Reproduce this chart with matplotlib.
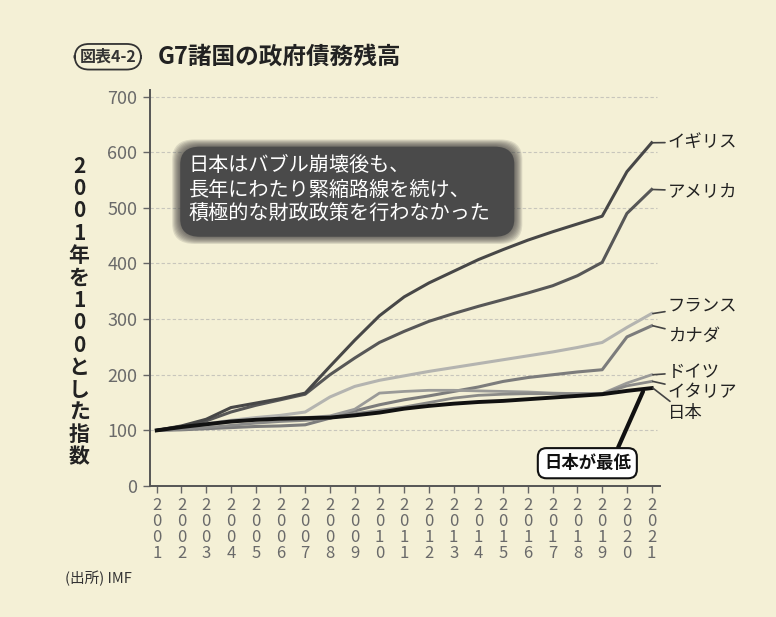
import matplotlib.pyplot as plt
from matplotlib.patches import FancyBboxPatch

plt.rcParams['font.family'] = ['Noto Sans CJK JP', 'DejaVu Sans']

# Index values, 2001 = 100
years = list(range(2001, 2022))
uk = [100, 108, 120, 141, 149, 157, 167, 215, 262, 306, 340, 365, 386, 407,
      425, 442, 457, 471, 485, 565, 617]
us = [100, 107, 117, 133, 145, 155, 165, 200, 230, 258, 278, 296, 310, 323,
      335, 347, 360, 378, 402, 490, 533]
france = [100, 105, 112, 118, 123, 127, 133, 160, 179, 190, 198, 206, 213,
          220, 227, 234, 241, 249, 258, 285, 310]
canada = [100, 101, 103, 105, 107, 108, 110, 122, 135, 146, 155, 162, 170,
          178, 188, 195, 200, 205, 209, 268, 288]
germany = [100, 105, 110, 115, 119, 122, 123, 126, 138, 167, 170, 172, 172,
           171, 170, 169, 167, 166, 166, 185, 200]
italy = [100, 102, 105, 109, 113, 116, 118, 122, 130, 136, 142, 150, 158,
         163, 165, 166, 166, 166, 166, 180, 188]
japan = [100, 106, 111, 116, 119, 121, 122, 123, 127, 132, 139, 144, 148,
         151, 153, 156, 159, 162, 165, 171, 176]

names = ['イギリス', 'アメリカ', 'フランス', 'カナダ', 'ドイツ', 'イタリア', '日本']
series = [uk, us, france, canada, germany, italy, japan]
colors = ['#474747', '#575757', '#b4b4b0', '#7c7c7c', '#9a9a98', '#8a8a88', '#111111']
widths = [2.2, 2.2, 2.2, 2.2, 2.0, 2.0, 2.8]
label_y = [618, 530, 324, 270, 205, 168, 131]

bg = '#f4f0d6'
fig = plt.figure(figsize=(7.76, 6.17), dpi=100, facecolor=bg)
ax = fig.add_axes([0.193, 0.2123, 0.657, 0.642], facecolor=bg)

for v in range(100, 800, 100):
    ax.plot([2000.72, 2021.2], [v, v], color='#c8c6bc', lw=0.8,
            ls=(0, (3, 2)), zorder=1)

order = [2, 3, 4, 5, 1, 0, 6]
for i in order:
    ax.plot(years, series[i], color=colors[i], lw=widths[i],
            solid_joinstyle='round', zorder=3)

for i, name in enumerate(names):
    ax.annotate(name, xy=(2021.05, series[i][-1]), xytext=(2021.65, label_y[i]),
                fontsize=12.5, color='#222222', va='center', ha='left',
                annotation_clip=False,
                arrowprops=dict(arrowstyle='-', color='#444444', lw=1.2,
                                shrinkA=0, shrinkB=0))

ax.set_xlim(2000.72, 2021.32)
ax.set_ylim(0, 712)
ax.set_yticks(range(0, 800, 100))
ax.set_yticklabels([str(v) for v in range(0, 800, 100)], fontsize=13,
                   color='#6a6a6a')
ax.set_xticks(years)
ax.set_xticklabels(['\n'.join(str(y)) for y in years], fontsize=12,
                   color='#6a6a6a', linespacing=0.92)
ax.tick_params(axis='y', length=5, width=1, color='#666666', pad=4)
ax.tick_params(axis='x', length=5, width=1, color='#666666', pad=3)
for s in ['top', 'right']:
    ax.spines[s].set_visible(False)
for s in ['left', 'bottom']:
    ax.spines[s].set_color('#555555')
    ax.spines[s].set_linewidth(1.4)

# dark callout box with a soft, blurred edge
steps = 8
for k in range(steps):
    grow = (steps - k) * 0.9
    ax.add_patch(FancyBboxPatch((2001.95 - grow * 0.045, 448 - grow * 1.8),
                                13.5 + grow * 0.09, 162 + grow * 3.6,
                                boxstyle='round,pad=0,rounding_size=0.9',
                                facecolor='#3c3c3c', edgecolor='none',
                                alpha=0.13, zorder=4, mutation_aspect=40))
ax.add_patch(FancyBboxPatch((2001.95, 448), 13.5, 162,
                            boxstyle='round,pad=0,rounding_size=0.8',
                            facecolor='#4a4a4a', edgecolor='none',
                            zorder=5, mutation_aspect=40))
ax.text(2002.3, 532, '日本はバブル崩壊後も、\n長年にわたり緊縮路線を続け、\n積極的な財政政策を行わなかった',
        fontsize=14.5, color='white', va='center', ha='left',
        linespacing=1.22, zorder=6)

# "Japan is lowest" callout
ax.annotate('日本が最低', xy=(2020.65, 170), xytext=(2018.4, 41),
            fontsize=12.5, fontweight='bold', color='#111111',
            ha='center', va='center', zorder=7,
            bbox=dict(boxstyle='round,pad=0.35,rounding_size=0.5',
                      facecolor='white', edgecolor='#111111', lw=1.5),
            arrowprops=dict(arrowstyle='-', color='#111111', lw=3,
                            shrinkA=0, shrinkB=0,
                            relpos=(0.82, 1.0)))

# vertical y label, one character per line
ylab = '2001年を100とした指数'
fig.text(0.102, 0.495, '\n'.join(ylab), fontsize=15, fontweight='bold',
         color='#222222', ha='center', va='center', linespacing=1.08)

fig.text(0.139, 0.908, '図表4-2', fontsize=11.5, fontweight='bold',
         color='#333333', ha='center', va='center',
         bbox=dict(boxstyle='round,pad=0.3,rounding_size=0.9',
                   facecolor='none', edgecolor='#333333', lw=1.3))
fig.text(0.203, 0.908, 'G7諸国の政府債務残高', fontsize=17,
         fontweight='bold', color='#222222', ha='left', va='center')
fig.text(0.084, 0.063, '(出所) IMF', fontsize=10.5, color='#333333',
         ha='left', va='center')

fig.savefig('out.png', dpi=100, facecolor=bg)
